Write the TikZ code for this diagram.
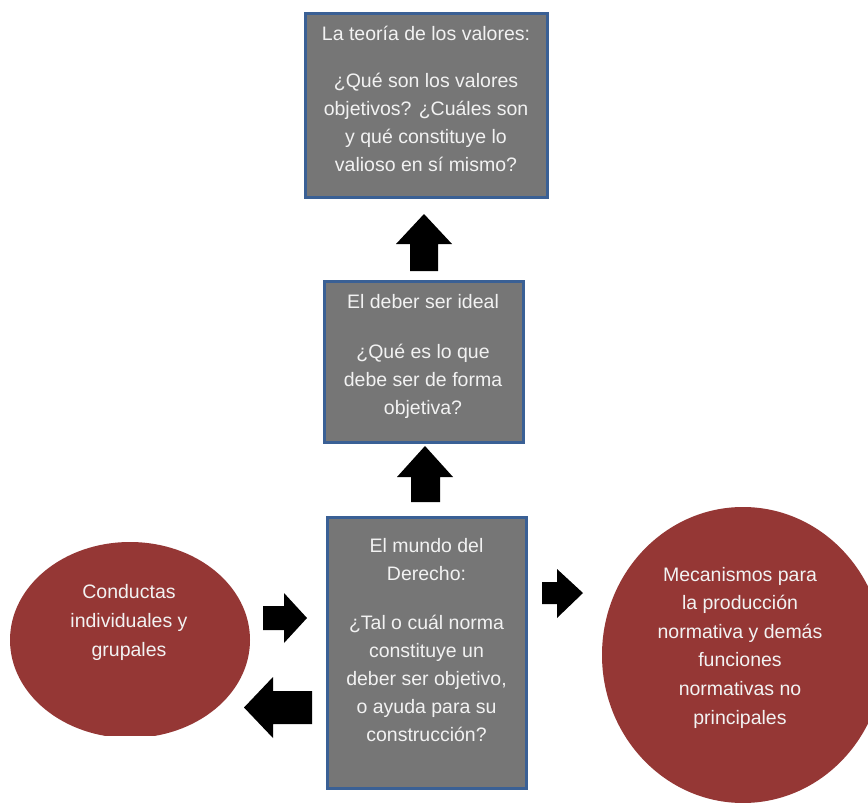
\documentclass[tikz,border=0pt]{standalone}
\usepackage{fontspec}
\setmainfont{Liberation Sans}
\usetikzlibrary{shapes.geometric}
\definecolor{boxgray}{HTML}{767676}
\definecolor{boxblue}{HTML}{3A6095}
\definecolor{darkred}{HTML}{953735}
\definecolor{txt}{HTML}{F2F2F2}
\begin{document}
\begin{tikzpicture}[x=1pt,y=-1pt,
  graybox/.style={draw=boxblue, line width=3pt, fill=boxgray, rectangle, inner sep=0pt},
  redblob/.style={fill=darkred, ellipse, inner sep=0pt},
  label/.style={text=txt, align=center, inner sep=0pt, font=\fontsize{19.5}{28}\selectfont},
  blockarrow/.style={fill=black}]
\useasboundingbox (0,0) rectangle (868,803);
\fill[white] (0,0) rectangle (868,803);

% boxes
\node[graybox, minimum width=242pt, minimum height=184pt] (teoria) at (426,105) {};
\node[graybox, minimum width=199pt, minimum height=161pt] (deber) at (423.5,361.5) {};
\node[graybox, minimum width=199pt, minimum height=271pt] (mundo) at (426.5,652.5) {};

% ellipses
\begin{scope}
  \clip (0,0) rectangle (868,735);
  \node[redblob, minimum width=240pt, minimum height=196pt] (conductas) at (130,640) {};
\end{scope}
\begin{scope}
  \clip (0,0) rectangle (868,803);
  \node[redblob, minimum width=282pt, minimum height=296pt] (mecanismos) at (743,655) {};
\end{scope}

% texts
\node[label] (tteoria) at (426,99) {La teoría de los valores:\\[19pt]¿Qué son los valores\\objetivos? ¿Cuáles son\\y qué constituye lo\\valioso en sí mismo?};
\node[label] (tdeber) at (423,356) {El deber ser ideal\\[22pt]¿Qué es lo que\\debe ser de forma\\objetiva?};
\node[label] (tmundo) at (426.5,640.5) {El mundo del\\Derecho:\\[21pt]¿Tal o cuál norma\\constituye un\\deber ser objetivo,\\o ayuda para su\\construcción?};
\node[label, font=\fontsize{19.5}{29}\selectfont] (tconductas) at (129,622) {Conductas\\individuales y\\grupales};
\node[label, font=\fontsize{19.5}{28.6}\selectfont] (tmecanismos) at (740,647.5) {Mecanismos para\\la producción\\normativa y demás\\funciones\\normativas no\\principales};

% block arrows
\fill[blockarrow] (424,214) -- (452,244) -- (438,244) -- (438,271) -- (410,271) -- (410,244) -- (396,244) -- cycle;
\fill[blockarrow] (425,446) -- (453,477) -- (440,477) -- (440,502) -- (411,502) -- (411,477) -- (397,477) -- cycle;
\fill[blockarrow] (307,618) -- (284,643) -- (284,630) -- (263,630) -- (263,606) -- (284,606) -- (284,593) -- cycle;
\fill[blockarrow] (244,707.5) -- (273,677) -- (273,691) -- (312,691) -- (312,724) -- (273,724) -- (273,738) -- cycle;
\fill[blockarrow] (583,593) -- (557,569) -- (557,582) -- (542,582) -- (542,604) -- (557,604) -- (557,618) -- cycle;
\end{tikzpicture}
\end{document}
